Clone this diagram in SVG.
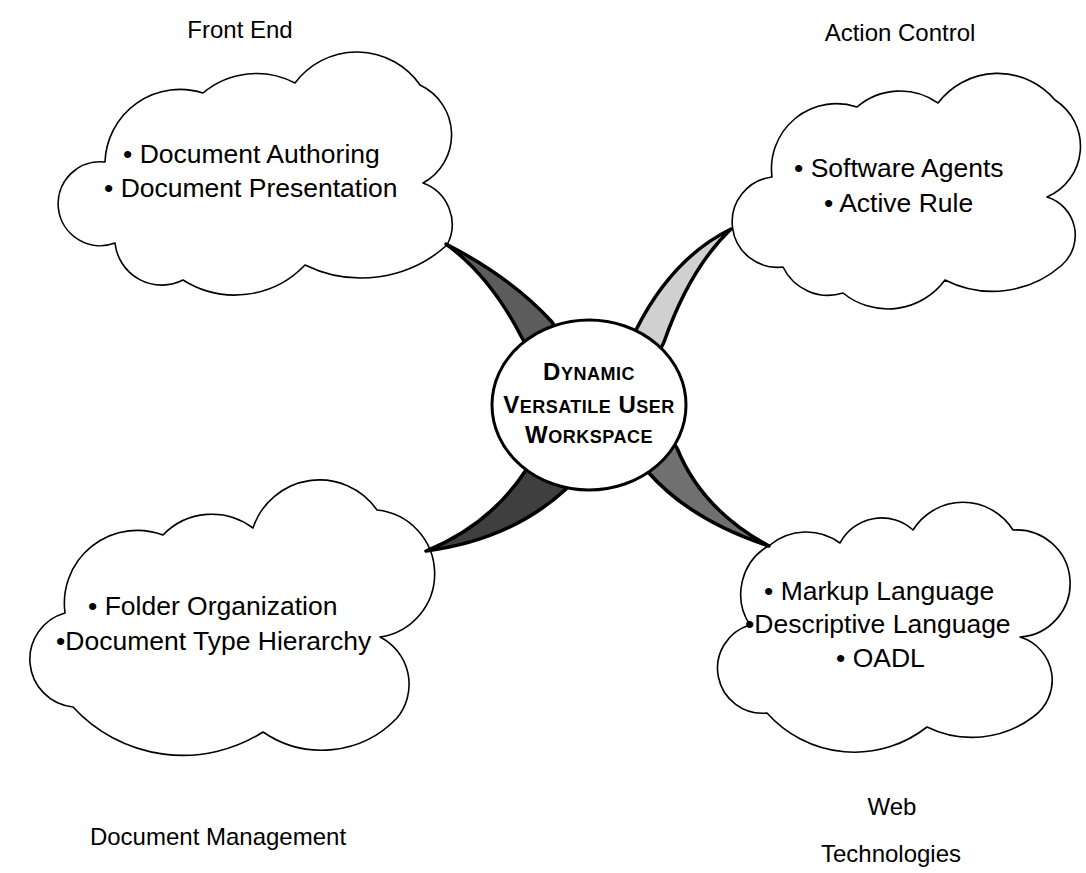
<svg xmlns="http://www.w3.org/2000/svg" width="1086" height="873" viewBox="0 0 1086 873">
<style>
.bg{fill:#fff}
.cloud{fill:#fff;stroke:#000;stroke-width:1.6;stroke-linejoin:round}
.arm{stroke:#000;stroke-width:3.5;stroke-linejoin:round}
.hub{fill:#fff;stroke:#000;stroke-width:3}
.t{font-family:"Liberation Sans",Arial,sans-serif;font-size:26.5px;fill:#000}
.title{font-family:"Liberation Sans",Arial,sans-serif;font-size:24px;fill:#000;text-anchor:middle}
.hubt{font-family:"Liberation Sans",Arial,Helvetica,sans-serif;font-weight:bold;font-size:24px;fill:#000;text-anchor:middle;letter-spacing:0.5px}
.sc{font-family:"Liberation Sans",Arial,Helvetica,sans-serif;font-weight:bold;font-size:18px}
</style>
<rect class="bg" x="0" y="0" width="1086" height="873"/>

<g id="front-end">
<path class="cloud" d="M 105 162 A 75 75 0 0 1 203 93 A 83 83 0 0 1 295 83 A 77 77 0 0 1 420 85 A 55 55 0 0 1 423 183 A 44 44 0 0 1 447 245 A 128 128 0 0 1 305 265 A 97 97 0 0 1 183 280 A 47 47 0 0 1 115 243 A 42 42 0 1 1 105 162 Z"/>
<text class="t" x="123" y="163">• Document Authoring</text>
<text class="t" x="104" y="197">• Document Presentation</text>
<text class="title" x="240" y="38">Front End</text>
</g>

<g id="action-control">
<path class="cloud" d="M 772 177 A 65 65 0 0 1 857 107 A 66 66 0 0 1 938 103 A 75 75 0 0 1 1055 100 A 55 55 0 0 1 1047 197 A 40 40 0 0 1 1062 265 A 105 105 0 0 1 945 280 A 71 71 0 0 1 843 293 A 50 50 0 0 1 783 267 A 40 40 0 0 1 772 177 Z"/>
<text class="t" x="794" y="177">• Software Agents</text>
<text class="t" x="824" y="212">• Active Rule</text>
<text class="title" x="900" y="41">Action Control</text>
</g>

<g id="document-management">
<path class="cloud" d="M 65 613 A 73 73 0 0 1 163 535 A 68 68 0 0 1 253 528 A 70 70 0 0 1 377 510 A 64 64 0 0 1 380 637 A 53 53 0 0 1 397 718 A 104 104 0 0 1 263 732 A 149 149 0 0 1 73 707 A 48 48 0 0 1 65 613 Z"/>
<text class="t" x="88" y="615">• Folder Organization</text>
<text class="t" x="56" y="650">•Document Type Hierarchy</text>
<text class="title" x="218" y="845">Document Management</text>
</g>

<g id="web-technologies">
<path class="cloud" d="M 750 625 A 56 56 0 0 1 770 545 A 57 57 0 0 1 840 543 A 47 47 0 0 1 913 530 A 59 59 0 0 1 1013 530 A 50 50 0 0 1 1020 637 A 45 45 0 0 1 1033 717 A 102 102 0 0 1 927 727 A 117 117 0 0 1 767 713 A 45 45 0 0 1 750 625 Z"/>
<text class="t" x="764" y="600">• Markup Language</text>
<text class="t" x="745" y="633">•Descriptive Language</text>
<text class="t" x="836" y="667">• OADL</text>
<text class="title" x="892" y="815">Web</text>
<text class="title" x="891" y="862">Technologies</text>
</g>

<g id="connectors">
<path class="arm" fill="#5c5c5c" d="M 446 244 Q 490 276 521 336 L 527 347 L 558 332 L 552 322 Q 512 278 446 244 Z"/>
<path class="arm" fill="#d0d0d0" d="M 731 229 Q 672 258 636 330 L 632 340 L 659 352 L 664 342 Q 690 268 731 229 Z"/>
<path class="arm" fill="#3f3f3f" d="M 532 462 L 526 470 Q 490 525 426 551 Q 510 540 565 490 L 572 482 Z"/>
<path class="arm" fill="#707070" d="M 671 440 L 677 448 Q 702 510 769 546 Q 690 520 648 472 L 642 465 Z"/>
</g>

<g id="hub">
<ellipse class="hub" cx="589" cy="405" rx="97" ry="85"/>
<text class="hubt" x="589" y="380" font-family="Liberation Sans, Arial, sans-serif">D<tspan class="sc">YNAMIC</tspan></text>
<text class="hubt" x="589" y="413" font-family="Liberation Sans, Arial, sans-serif">V<tspan class="sc">ERSATILE</tspan> U<tspan class="sc">SER</tspan></text>
<text class="hubt" x="589" y="443" font-family="Liberation Sans, Arial, sans-serif">W<tspan class="sc">ORKSPACE</tspan></text>
</g>
</svg>
